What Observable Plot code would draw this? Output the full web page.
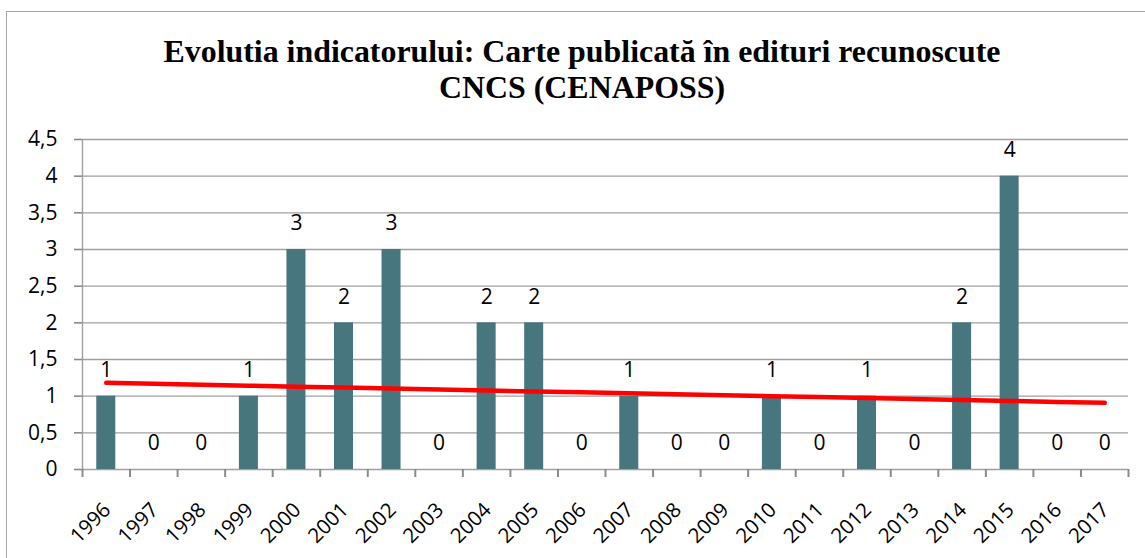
<!DOCTYPE html>
<html><head><meta charset="utf-8">
<script src="https://cdn.jsdelivr.net/npm/d3@7"></script>
<script src="https://cdn.jsdelivr.net/npm/@observablehq/plot@0.6"></script>
<style>
html,body{margin:0;padding:0;background:#fff;overflow:hidden;width:1145px;height:558px}
#frame{position:absolute;left:6px;top:11px;width:1300px;height:700px;border:1.5px solid #a6a6a6;box-sizing:border-box}
#title{position:absolute;left:0;top:33px;width:1164px;text-align:center;font-family:"Liberation Serif","Times New Roman",serif;font-weight:bold;font-size:32px;line-height:36px;color:#000;transform-origin:582px 0;white-space:nowrap}
#chart{position:absolute;left:0;top:100px}
</style></head><body>
<div id="frame"></div>
<div id="title"><span id="t1">Evolutia indicatorului: Carte publicată în edituri recunoscute</span><br><span id="t2">CNCS (CENAPOSS)</span></div>
<div id="chart"></div>
<script>
const years = ["1996","1997","1998","1999","2000","2001","2002","2003","2004","2005","2006","2007","2008","2009","2010","2011","2012","2013","2014","2015","2016","2017"];
const values = [1,0,0,1,3,2,3,0,2,2,0,1,0,0,1,0,1,0,2,4,0,0];
const yTicks = [0,0.5,1,1.5,2,2.5,3,3.5,4,4.5];

const data = years.map((year, i) => ({year, value: values[i], i}));
// linear trend line (least squares) computed from the data
const mx = d3.mean(data, d => d.i), my = d3.mean(data, d => d.value);
const slope = d3.sum(data, d => (d.i - mx) * (d.value - my)) / d3.sum(data, d => (d.i - mx) ** 2);
const trend = data.map(d => ({year: d.year, fit: my + slope * (d.i - mx)}));

const W = 1145, H = 458, mL = 82, mR = 17, mT = 39, mB = 89;
const step = (W - mL - mR) / years.length;
const grid = "#a0a0a0";
const tickColor = "#8a8a8a";
const font = '"Open Sans", sans-serif';

const chart = Plot.plot({
  width: W, height: H,
  marginLeft: mL, marginRight: mR, marginTop: mT, marginBottom: mB,
  style: {fontFamily: font, background: "transparent", overflow: "visible"},
  x: {type: "band", domain: years, paddingInner: 0.6, paddingOuter: 0.3, round: false},
  y: {domain: [0, 4.5]},
  marks: [
    Plot.gridY(yTicks, {stroke: grid, strokeOpacity: 1, strokeWidth: 1.4}),
    Plot.ruleX([years[0]], {x: d => d, y1: 0, y2: 4.5, dx: -step / 2, stroke: grid, strokeWidth: 1.4}),
    Plot.barY(data, {x: "year", y: "value", fill: "#47767f"}),
    Plot.line(trend, {x: "year", y: "fit", stroke: "#ff0000", strokeWidth: 4.5, strokeLinecap: "round"}),
    Plot.text(data, {x: "year", y: "value", text: d => String(d.value), dy: -26, fontSize: 21, fill: "#000"}),
    Plot.axisY(yTicks, {tickSize: 8, tickPadding: 17, stroke: tickColor, strokeWidth: 1.6, fontSize: 21, fill: "#000",
      tickFormat: d => String(d).replace(".", ","), label: null}),
    Plot.axisX({tickSize: 0, tickPadding: 37, tickRotate: -45, fontSize: 20.5, dx: 1, fill: "#000", label: null}),
    // category-boundary tick marks below the x axis
    Plot.ruleX(years, {x: d => d, y1: 0, y2: 0, insetBottom: -8, dx: -step / 2, stroke: tickColor, strokeWidth: 2}),
    Plot.ruleX([years[years.length - 1]], {x: d => d, y1: 0, y2: 0, insetBottom: -8, dx: step / 2, stroke: tickColor, strokeWidth: 2})
  ]
});
document.getElementById("chart").appendChild(chart);

const t = document.getElementById("title");
const w1 = document.getElementById("t1").getBoundingClientRect().width;
t.style.transform = `scaleX(${837 / w1})`;
</script>
</body></html>
